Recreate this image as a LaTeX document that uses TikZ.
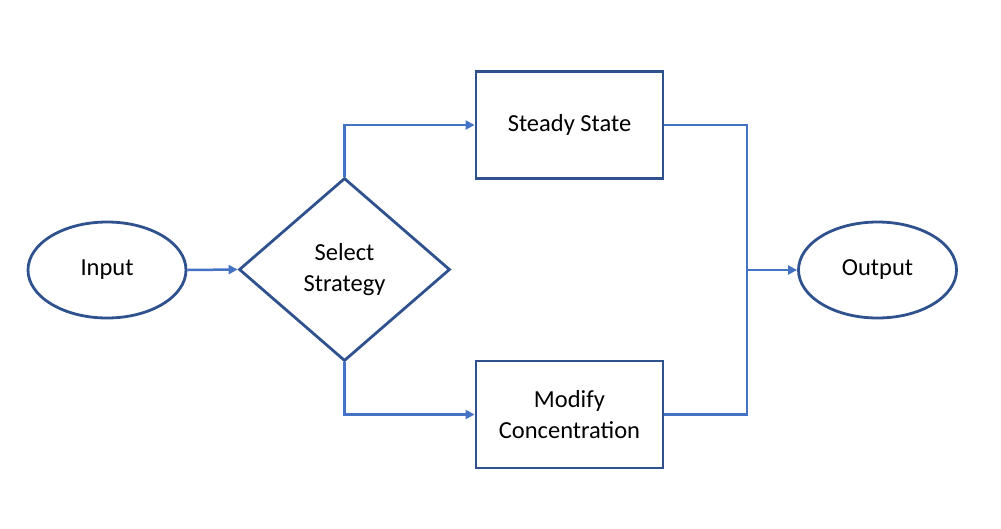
\documentclass[tikz,border=0pt]{standalone}
\usepackage{fontspec}
\setmainfont{Carlito}
\usetikzlibrary{shapes.geometric,arrows.meta}
\definecolor{shapeblue}{HTML}{2F528F}
\definecolor{linkblue}{HTML}{4472C4}
\begin{document}
\begin{tikzpicture}[x=1pt,y=-1pt,
  shapebase/.style={draw=shapeblue,line width=2.8pt,fill=white,font=\fontsize{24.5}{31}\selectfont,align=center,inner sep=0pt},
  oval/.style={shapebase,ellipse,minimum width=158pt,minimum height=96pt},
  decision/.style={shapebase,diamond,minimum width=211pt,minimum height=183pt},
  procbox/.style={shapebase,rectangle,minimum width=187pt,minimum height=107pt},
  link/.style={draw=linkblue,line width=2.5pt},
  linkarrow/.style={link,-{Triangle[length=9pt,width=9pt]}}]
\useasboundingbox (0,0) rectangle (1001,528);
\node[oval] (in) at (107,270) {Input};
\node[decision] (sel) at (344.5,269.5) {Select\\Strategy};
\node[procbox] (ss) at (569.5,125) {Steady State};
\node[procbox] (mc) at (569.5,414.5) {Modify\\Concentration};
\node[oval] (out) at (877.5,270) {Output};
\coordinate (j) at (747,270);
\draw[linkarrow] (in.east) -- (sel.west);
\draw[linkarrow] (sel.north) |- (ss.west);
\draw[linkarrow] (sel.south) |- (mc.west);
\draw[link] (ss.east) -| (j);
\draw[link] (mc.east) -| (j);
\draw[linkarrow] (j) -- (out.west);
\end{tikzpicture}
\end{document}
